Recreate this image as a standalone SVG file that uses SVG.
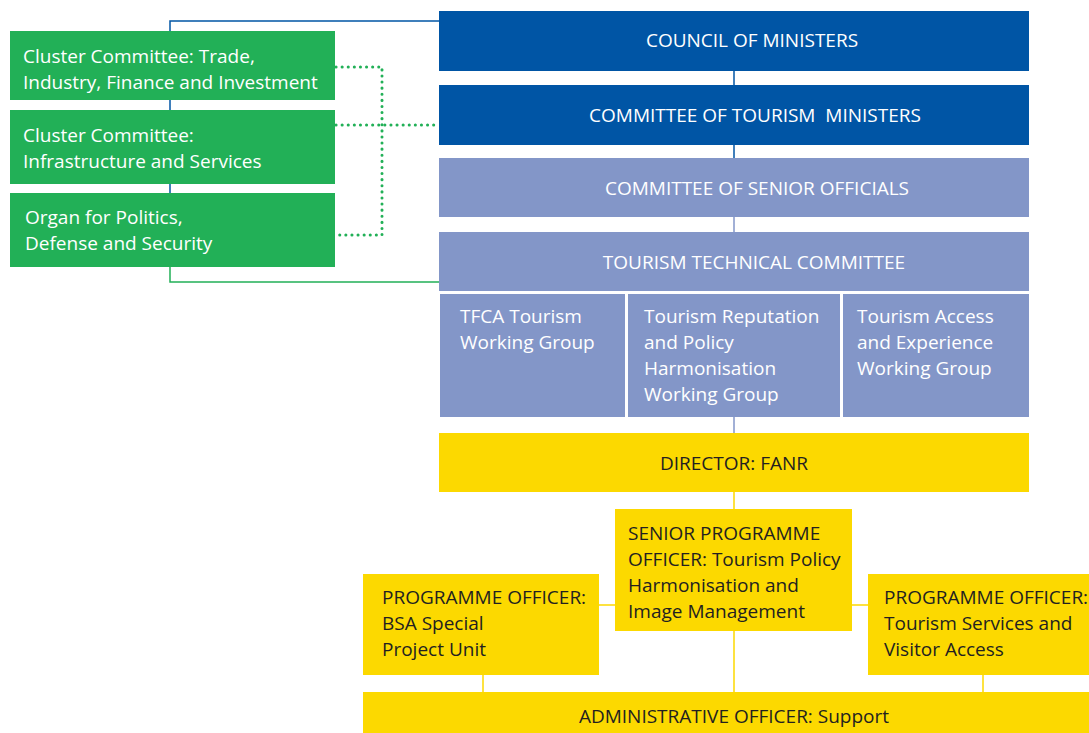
<svg xmlns="http://www.w3.org/2000/svg" width="1089" height="733" viewBox="0 0 1089 733">
<style>
.t{font-family:"Open Sans","Noto Sans",sans-serif;font-size:19px;}
.w{fill:#ffffff;}
.d{fill:#231f20;}
.c{text-anchor:middle;}
.g{fill:#22b057;}
.b{fill:#0055a5;}
.p{fill:#8396c8;}
.y{fill:#fcd900;}
.ln{fill:none;stroke-width:1.5;}
</style>
<rect width="1089" height="733" fill="#ffffff"/>
<g id="connectors">
<polyline class="ln" stroke="#0055a5" points="170,195 170,21 440,21"/>
<polyline class="ln" stroke="#22b057" points="170,266 170,282 440,282"/>
<polyline fill="none" stroke="#22b057" stroke-width="3" stroke-dasharray="0.1 6" stroke-linecap="round" points="336,67 382,67 382,235 336,235"/>
<line stroke="#22b057" stroke-width="3" stroke-dasharray="0.1 6" stroke-linecap="round" x1="336" y1="125" x2="438" y2="125"/>
<line class="ln" stroke="#0055a5" x1="734" y1="71" x2="734" y2="85"/>
<line class="ln" stroke="#0055a5" x1="734" y1="145" x2="734" y2="158"/>
<line class="ln" stroke="#8396c8" x1="734" y1="217" x2="734" y2="232"/>
<line class="ln" stroke="#8396c8" x1="734" y1="417" x2="734" y2="433"/>
<line class="ln" stroke="#fcd900" x1="734" y1="492" x2="734" y2="509"/>
<line class="ln" stroke="#fcd900" x1="734" y1="631" x2="734" y2="692"/>
<line class="ln" stroke="#fcd900" x1="599" y1="605" x2="615" y2="605"/>
<line class="ln" stroke="#fcd900" x1="852" y1="605" x2="868" y2="605"/>
<line class="ln" stroke="#fcd900" x1="483" y1="675" x2="483" y2="692"/>
<line class="ln" stroke="#fcd900" x1="983" y1="675" x2="983" y2="692"/>
</g>
<g id="cluster-trade">
<rect class="g" x="10" y="31" width="325" height="69"/>
<text class="t w" x="23" y="63">Cluster Committee: Trade,</text>
<text class="t w" x="23" y="89">Industry, Finance and Investment</text>
</g>
<g id="cluster-infra">
<rect class="g" x="10" y="110" width="325" height="74"/>
<text class="t w" x="23" y="142">Cluster Committee:</text>
<text class="t w" x="23" y="168">Infrastructure and Services</text>
</g>
<g id="organ">
<rect class="g" x="10" y="193" width="325" height="74"/>
<text class="t w" x="25" y="224">Organ for Politics,</text>
<text class="t w" x="25" y="250">Defense and Security</text>
</g>
<g id="council">
<rect class="b" x="439" y="11" width="590" height="60"/>
<text class="t w c" x="752" y="47">COUNCIL OF MINISTERS</text>
</g>
<g id="ctm">
<rect class="b" x="439" y="85" width="590" height="60"/>
<text class="t w c" x="755" y="122" xml:space="preserve">COMMITTEE OF TOURISM  MINISTERS</text>
</g>
<g id="cso">
<rect class="p" x="439" y="158" width="590" height="59"/>
<text class="t w c" x="757" y="195">COMMITTEE OF SENIOR OFFICIALS</text>
</g>
<g id="ttc">
<rect class="p" x="439" y="232" width="590" height="59"/>
<text class="t w c" x="754" y="269">TOURISM TECHNICAL COMMITTEE</text>
</g>
<g id="wg-tfca">
<rect class="p" x="440" y="294" width="185" height="123"/>
<text class="t w" x="460" y="323">TFCA Tourism</text>
<text class="t w" x="460" y="349">Working Group</text>
</g>
<g id="wg-reputation">
<rect class="p" x="628" y="294" width="212" height="123"/>
<text class="t w" x="644" y="323">Tourism Reputation</text>
<text class="t w" x="644" y="349">and Policy</text>
<text class="t w" x="644" y="375">Harmonisation</text>
<text class="t w" x="644" y="401">Working Group</text>
</g>
<g id="wg-access">
<rect class="p" x="843" y="294" width="186" height="123"/>
<text class="t w" x="857" y="323">Tourism Access</text>
<text class="t w" x="857" y="349">and Experience</text>
<text class="t w" x="857" y="375">Working Group</text>
</g>
<g id="director">
<rect class="y" x="439" y="433" width="590" height="59"/>
<text class="t d c" x="734" y="470">DIRECTOR: FANR</text>
</g>
<g id="spo">
<rect class="y" x="615" y="509" width="237" height="122"/>
<text class="t d" x="628" y="540">SENIOR PROGRAMME</text>
<text class="t d" x="628" y="566">OFFICER: Tourism Policy</text>
<text class="t d" x="628" y="592">Harmonisation and</text>
<text class="t d" x="628" y="618">Image Management</text>
</g>
<g id="po-bsa">
<rect class="y" x="363" y="574" width="236" height="101"/>
<text class="t d" x="382" y="604">PROGRAMME OFFICER:</text>
<text class="t d" x="382" y="630">BSA Special</text>
<text class="t d" x="382" y="656">Project Unit</text>
</g>
<g id="po-services">
<rect class="y" x="868" y="574" width="221" height="101"/>
<text class="t d" x="884" y="604">PROGRAMME OFFICER:</text>
<text class="t d" x="884" y="630">Tourism Services and</text>
<text class="t d" x="884" y="656">Visitor Access</text>
</g>
<g id="admin">
<rect class="y" x="363" y="692" width="726" height="41"/>
<text class="t d c" x="734" y="723">ADMINISTRATIVE OFFICER: Support</text>
</g>
</svg>
